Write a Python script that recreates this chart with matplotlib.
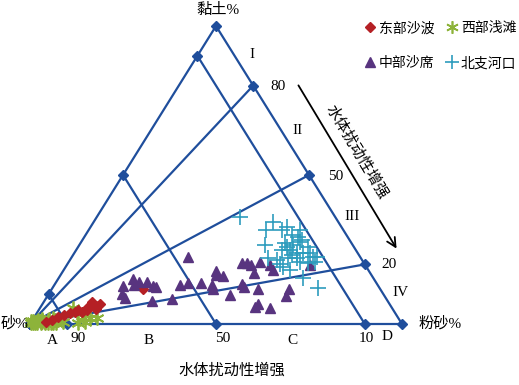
import numpy as np
import matplotlib.pyplot as plt
from matplotlib.lines import Line2D

plt.rcParams['font.family'] = ['Liberation Serif', 'Noto Sans CJK SC']

# sand %, clay % (silt = 100 - sand - clay)
east_sand = [79.6, 77.8, 79.3, 81.5, 82.3, 84.0, 84.7, 85.9, 87.3, 89.4, 91.3, 79.8, 63.8, 93.4, 95.3]
east_clay = [7.4, 6.7, 6.0, 5.7, 4.7, 4.0, 4.7, 4.0, 3.7, 3.0, 2.3, 5.0, 11.7, 1.3, 0.7]

west_sand = [85.5, 85.7, 81.0, 84.9, 87.0, 90.8, 92.1, 82.9, 84.6, 92.8,
             99.5, 99.0, 98.6, 98.2, 97.8, 97.5, 97.0, 96.6, 96.2, 95.8, 95.5, 95.0, 94.6,
             94.2, 93.8, 93.3, 92.9, 92.5, 98.8, 97.2, 95.9, 94.0, 99.2, 96.9, 93.6]
west_clay = [3.7, 5.4, 2.0, 0.7, 0.3, 0.7, 1.3, 2.0, 2.3, 2.0,
             0.2, 0.5, 0.3, 0.8, 0.4, 1.0, 0.2, 0.6, 1.2, 0.3, 0.8, 0.5, 1.3,
             0.2, 0.7, 1.0, 0.4, 1.5, 1.0, 1.4, 1.6, 1.8, 0.9, 0.9, 0.2]

mid_sand = [46.2, 68.6, 64.8, 63.6, 65.5, 61.5, 60.5, 59.9, 70.2, 70.1, 63.3, 57.6, 53.1,
            50.6, 47.1, 44.5, 45.0, 41.1, 41.8, 40.1, 32.8, 31.4, 30.7, 27.8, 31.2, 25.6,
            25.6, 36.3, 36.3, 32.8, 41.4, 24.5, 26.5, 35.4, 36.7, 32.8, 14.8]
mid_clay = [22.5, 12.8, 15.1, 14.1, 13.1, 14.1, 12.8, 12.4, 10.1, 8.7, 7.7, 8.4, 13.1,
            13.8, 13.8, 13.1, 11.7, 17.8, 16.4, 16.1, 20.5, 20.5, 19.8, 20.8, 17.1, 19.8,
            18.1, 13.4, 12.4, 11.7, 9.7, 11.7, 9.4, 6.7, 5.7, 5.4, 19.8]

north_sand = [25.6, 17.6, 20.8, 16.5, 14.6, 11.7, 14.6, 13.4, 12.8, 23.6, 17.9, 16.0,
              18.0, 13.7, 12.4, 19.9, 17.7, 16.3, 18.0, 14.7, 12.8, 12.6, 11.5, 25.0,
              22.8, 17.1, 17.0, 22.4, 21.0, 15.0, 13.0, 18.9, 16.5, 19.6, 22.7]
north_clay = [35.9, 34.2, 31.5, 31.5, 32.6, 31.5, 29.9, 29.2, 28.2, 26.5, 27.2, 26.5,
              25.8, 27.5, 25.8, 24.8, 24.8, 23.8, 23.2, 23.8, 23.8, 22.5, 22.5, 22.1,
              21.5, 22.1, 20.8, 19.1, 18.1, 20.5, 20.8, 15.4, 12.1, 22.1, 20.1]

sand_lines = [90, 50, 10]          # constant sand %
ratio_lines = [80, 50, 20]         # clay/(clay+silt) %


def tern(sand, clay):
    sand = np.asarray(sand, float) / 100
    clay = np.asarray(clay, float) / 100
    silt = 1 - sand - clay
    return silt + 0.5 * clay, clay


def pix(px, py):
    return (px - 30) / 372, (324 - py) / 298


line_c = '#1F4E9C'
fig = plt.figure(figsize=(5.19, 3.85), dpi=100)
ax = fig.add_axes([30 / 519, 61 / 385, 372 / 519, 298 / 385])
ax.set_xlim(0, 1)
ax.set_ylim(0, 1)
ax.axis('off')

kw = dict(color=line_c, lw=1.6, marker='D', ms=5, clip_on=False, zorder=2)
x, y = tern([100, 0, 0, 100], [0, 0, 100, 0])
ax.plot(x, y, **kw)
for s in sand_lines:
    x, y = tern([s, s], [0, 100 - s])
    ax.plot(x, y, **kw)
for r in ratio_lines:
    x, y = tern([100, 0], [0, r])
    ax.plot(x, y, **kw)

ax.plot(*tern(west_sand, west_clay), ls='none', marker=(6, 2, 0), ms=10, mew=1.3,
        color='#8DB33A', clip_on=False, zorder=3)
ax.plot(*tern(east_sand, east_clay), ls='none', marker='D', ms=5,
        color='#B52025', clip_on=False, zorder=3)
ax.plot(*tern(mid_sand, mid_clay), ls='none', marker='^', ms=7,
        color='#58347F', clip_on=False, zorder=3)
ax.plot(*tern(north_sand, north_clay), ls='none', marker='+', ms=11, mew=1.2,
        color='#2D9CBD', clip_on=False, zorder=4)

labels = [('黏土%', 218, 10), ('I', 252, 55), ('80', 278, 87), ('II', 298, 130),
          ('50', 336, 176), ('III', 352, 216), ('20', 389, 265), ('IV', 400, 293),
          ('砂%', 15, 323), ('A', 52, 340), ('90', 78, 339), ('B', 149, 340),
          ('50', 223, 339), ('C', 292, 340), ('10', 366, 339), ('D', 387, 337),
          ('粉砂%', 440, 323)]
for t, px, py in labels:
    ax.text(*pix(px, py), t, fontsize=11, ha='center', va='center')

ax.annotate('', xy=pix(398, 251), xytext=pix(297, 83),
            arrowprops=dict(arrowstyle='->', color='black', lw=1.3, mutation_scale=16))
ax.text(*pix(357, 152), '水体扰动性增强', fontsize=11, rotation=-59,
        ha='center', va='center', rotation_mode='anchor')
ax.annotate('', xy=pix(108, 353), xytext=pix(320, 353),
            arrowprops=dict(arrowstyle='->', color='black', lw=1.3, mutation_scale=16))
ax.text(*pix(232, 371), '水体扰动性增强', fontsize=11, ha='center', va='center')

handles = [Line2D([], [], ls='none', marker='D', ms=5, color='#B52025'),
           Line2D([], [], ls='none', marker='^', ms=7, color='#58347F'),
           Line2D([], [], ls='none', marker=(6, 2, 0), ms=9, mew=1.2, color='#8DB33A'),
           Line2D([], [], ls='none', marker='+', ms=10, mew=1.2, color='#2D9CBD')]
names = ['东部沙波', '中部沙席', '西部浅滩', '北支河口']
fig.legend(handles, names, ncol=2, loc='upper left', bbox_to_anchor=(358 / 519, 1 - 15 / 385),
           frameon=False, fontsize=10, handlelength=0.7, handletextpad=0.3,
           columnspacing=0.9, labelspacing=1.55, borderpad=0)

fig.savefig('out.png', dpi=100)
